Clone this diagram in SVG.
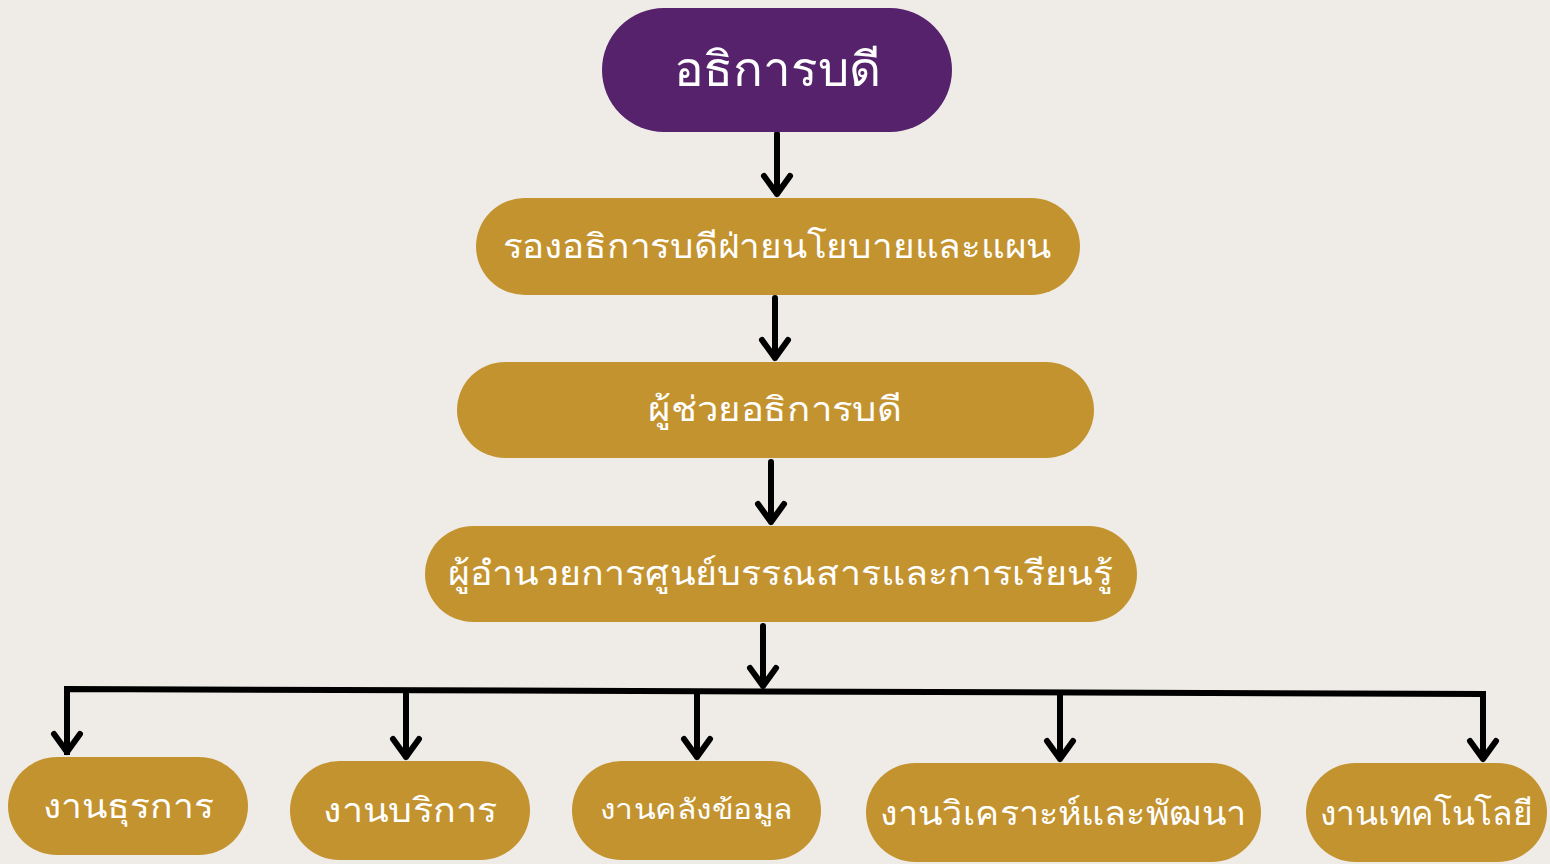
<svg xmlns="http://www.w3.org/2000/svg" width="1550" height="864" viewBox="0 0 1550 864">
<style>
.bg{fill:#EFECE7}
.gold{fill:#C3932F}
.purple{fill:#55226B}
.t{fill:#FFFFFF;font-family:"Noto Sans","DejaVu Sans",sans-serif;text-anchor:middle}
.c{fill:none;stroke:#000;stroke-width:6;stroke-linecap:round;stroke-linejoin:round}
.bar{fill:none;stroke:#000;stroke-width:6;stroke-linecap:square;stroke-linejoin:miter}
</style>
<rect class="bg" x="0" y="0" width="1550" height="864"/>
<g id="connectors">
<path class="c" d="M777 134 V194 M764 176 L777 194 L790 176"/>
<path class="c" d="M775 298 V358 M762 340 L775 358 L788 340"/>
<path class="c" d="M771 462 V522 M758 504 L771 522 L784 504"/>
<path class="c" d="M763 626 V686 M750 668 L763 686 L776 668"/>
<path class="bar" d="M67 752 V689 L1483 694 V756"/>
<path class="c" d="M54 734 L67 752 L80 734"/>
<path class="c" d="M406 692 V757 M393 739 L406 757 L419 739"/>
<path class="c" d="M697 693 V757 M684 739 L697 757 L710 739"/>
<path class="c" d="M1060 694 V759 M1047 741 L1060 759 L1073 741"/>
<path class="c" d="M1470 741 L1483 759 L1496 741"/>
</g>
<g id="n1"><rect class="purple" x="602" y="8" width="350" height="124" rx="62" ry="62"/><text class="t" x="777" y="86" font-size="48" textLength="207" lengthAdjust="spacingAndGlyphs">อธิการบดี</text></g>
<g id="n2"><rect class="gold" x="476" y="198" width="604" height="97" rx="48.5"/><text class="t" x="777" y="258" font-size="34" textLength="549" lengthAdjust="spacingAndGlyphs">รองอธิการบดีฝ่ายนโยบายและแผน</text></g>
<g id="n3"><rect class="gold" x="457" y="362" width="637" height="96" rx="48"/><text class="t" x="775" y="421" font-size="34" textLength="254" lengthAdjust="spacingAndGlyphs">ผู้ช่วยอธิการบดี</text></g>
<g id="n4"><rect class="gold" x="425" y="526" width="712" height="96" rx="48"/><text class="t" x="780" y="585" font-size="34" textLength="665" lengthAdjust="spacingAndGlyphs">ผู้อำนวยการศูนย์บรรณสารและการเรียนรู้</text></g>
<g id="b1"><rect class="gold" x="8" y="757" width="240" height="98" rx="49"/><text class="t" x="128" y="818" font-size="34" textLength="171" lengthAdjust="spacingAndGlyphs">งานธุรการ</text></g>
<g id="b2"><rect class="gold" x="290" y="761" width="240" height="99" rx="49.5"/><text class="t" x="410" y="822" font-size="34" textLength="174" lengthAdjust="spacingAndGlyphs">งานบริการ</text></g>
<g id="b3"><rect class="gold" x="572" y="761" width="249" height="99" rx="49.5"/><text class="t" x="696" y="819" font-size="28" textLength="193" lengthAdjust="spacingAndGlyphs">งานคลังข้อมูล</text></g>
<g id="b4"><rect class="gold" x="866" y="763" width="395" height="99" rx="49.5"/><text class="t" x="1063" y="825" font-size="34" textLength="366" lengthAdjust="spacingAndGlyphs">งานวิเคราะห์และพัฒนา</text></g>
<g id="b5"><rect class="gold" x="1306" y="763" width="241" height="99" rx="49.5"/><text class="t" x="1426" y="825" font-size="34" textLength="213" lengthAdjust="spacingAndGlyphs">งานเทคโนโลยี</text></g>
</svg>
